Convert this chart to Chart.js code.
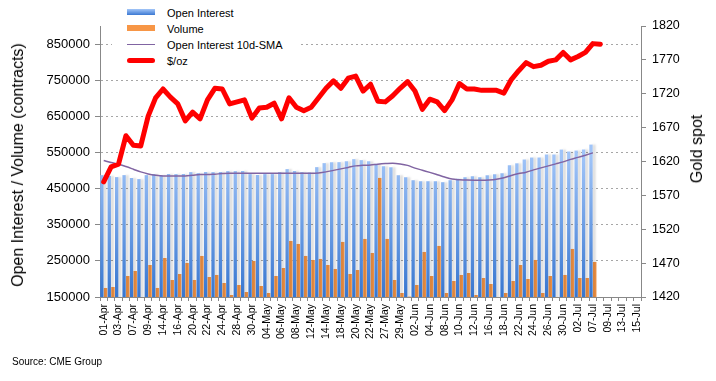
<!DOCTYPE html>
<html>
<head>
<meta charset="utf-8">
<script src="https://cdn.jsdelivr.net/npm/chart.js@4/dist/chart.umd.min.js"></script>
<style>
  body { margin: 0; background: #fff; font-family: "Liberation Sans", Arial, sans-serif; }
  #wrap { position: relative; width: 716px; height: 381px; }
  #chart { position: absolute; left: 0; top: 0; }
  .legend { position: absolute; left: 112px; top: 1px; width: 186px; height: 69px; background: #fff; z-index: 2; }
  .legend .row { position: absolute; left: 0; height: 14px; width: 186px; }
  .legend .sw { position: absolute; left: 15px; width: 28px; }
  .legend .txt { position: absolute; left: 55px; top: 0; font-size: 11px; line-height: 14px; color: #000; white-space: nowrap; }
  .axis-title { position: absolute; font-size: 16px; color: #000; white-space: nowrap; transform: translate(-50%, -50%) rotate(-90deg); z-index: 2; }
  .source { position: absolute; left: 12px; top: 356px; font-size: 10px; color: #000; }
</style>
</head>
<body>
<div id="wrap">
  <canvas id="chart" width="716" height="381"></canvas>
  <div class="legend">
    <div class="row" style="top:5px"><div class="sw" style="top:3px;height:6px;background:linear-gradient(#a3c6f8,#3b78d2)"></div><div class="txt">Open Interest</div></div>
    <div class="row" style="top:21px"><div class="sw" style="top:3px;height:6px;background:#f79646"></div><div class="txt">Volume</div></div>
    <div class="row" style="top:37px"><div class="sw" style="top:6px;height:1px;background:#8064a2"></div><div class="txt">Open Interest 10d-SMA</div></div>
    <div class="row" style="top:53px"><div class="sw" style="top:4px;height:5px;border-radius:3px;background:#ff0000"></div><div class="txt">$/oz</div></div>
  </div>
  <div class="axis-title" style="left:18px;top:165px">Open Interest / Volume (contracts)</div>
  <div class="axis-title" style="left:697px;top:149px">Gold spot</div>
  <div class="source">Source: CME Group</div>
</div>
<script>
// trading days shown on the category axis
const dates = [
  '01-Apr','02-Apr','03-Apr','06-Apr','07-Apr','08-Apr','09-Apr','13-Apr','14-Apr','15-Apr','16-Apr','17-Apr',
  '20-Apr','21-Apr','22-Apr','23-Apr','24-Apr','27-Apr','28-Apr','29-Apr','30-Apr',
  '01-May','04-May','05-May','06-May','07-May','08-May','11-May','12-May','13-May','14-May','15-May',
  '18-May','19-May','20-May','21-May','22-May','26-May','27-May','28-May','29-May',
  '01-Jun','02-Jun','03-Jun','04-Jun','05-Jun','08-Jun','09-Jun','10-Jun','11-Jun','12-Jun',
  '15-Jun','16-Jun','17-Jun','18-Jun','19-Jun','22-Jun','23-Jun','24-Jun','25-Jun','26-Jun','29-Jun','30-Jun',
  '01-Jul','02-Jul','06-Jul','07-Jul','08-Jul','09-Jul','10-Jul','13-Jul','14-Jul','15-Jul'
];

const openInterest = [
  487300, 485000, 481800, 487300, 479000, 476300, 487300, 490100, 487300, 490100, 490100, 490100,
  495600, 492800, 495600, 495600, 495600, 498400, 498400, 498400, 490100,
  487300, 490100, 490100, 495600, 503900, 498400, 495600, 494700, 509400, 520500, 523200,
  523200, 526000, 531500, 528800, 525500, 518600, 511800, 509000, 487000,
  481400, 473200, 470400, 470400, 470400, 467700, 473200, 477300, 481400, 484200,
  481400, 486900, 489700, 492500, 514500, 520000, 530500, 536000, 536000, 544300, 544300, 558000,
  552600, 555300, 558000, 571800
];

const volume = [
  175000, 177700, 140000, 208200, 222000, 140000, 238600, 175000, 258000, 197100, 213700, 244200,
  197100, 263600, 205400, 211000, 188800, 155500, 183200, 163900, 249700,
  180500, 161100, 208200, 230300, 305100, 296800, 263600, 252500, 255300, 238600, 227600,
  302400, 213700, 224800, 310700, 271900, 479600, 310700, 197100, 161100,
  151000, 183200, 274700, 208200, 291300, 161100, 194300, 211000, 216500, 155500,
  202600, 186000, 140000, 161100, 194300, 238600, 199900, 252500, 161100, 208200, 140000, 211000,
  283000, 202600, 202600, 246900
];

const oiSma = [
  527600, 522000, 517500, 511000, 503700, 496200, 490700, 487100, 485200, 485200, 485200, 485200,
  487000, 488800, 488800, 490000, 491600, 492600, 492600, 492600, 492600,
  492600, 492600, 492600, 492600, 492600, 492600, 492600, 492600, 493500, 496300, 500400,
  504600, 508700, 512900, 514300, 515600, 517600, 519200, 520400, 518400,
  514300, 506600, 501000, 494900, 488500, 482000, 476500, 474500, 473500, 473300,
  473300, 474000, 476000, 480000, 486500, 491500, 495500, 501800, 507300, 512900, 518400, 524000,
  530900, 536400, 542500, 548900
];

const goldSpot = [
  1590, 1612, 1616, 1658, 1644, 1643, 1687, 1714, 1727, 1715, 1705, 1680,
  1693, 1683, 1711, 1728, 1727, 1705, 1708, 1711, 1684,
  1699, 1700, 1706, 1683, 1714, 1700, 1695, 1700, 1714, 1728, 1739,
  1728, 1743, 1746, 1724, 1734, 1709, 1708, 1717, 1728,
  1738, 1724, 1697, 1712, 1708, 1695, 1711, 1735, 1727, 1727,
  1725, 1725, 1725, 1721, 1741, 1754, 1766, 1760, 1762, 1768, 1770, 1781,
  1770, 1775, 1781, 1794, 1793
];

const leftTicks = [150000, 250000, 350000, 450000, 550000, 650000, 750000, 850000];

const FONT = '"Liberation Sans", Arial, sans-serif';
Chart.defaults.font.family = FONT;
Chart.defaults.color = '#000';

let blueGrad = null;
const blueFill = (c) => {
  const { ctx, chartArea } = c.chart;
  if (!chartArea) return '#6a9fe6';
  if (!blueGrad) {
    blueGrad = ctx.createLinearGradient(0, chartArea.top + 130, 0, chartArea.bottom);
    blueGrad.addColorStop(0, '#a0c4f8');
    blueGrad.addColorStop(1, '#3776d0');
  }
  return blueGrad;
};

// soft shadow to the right of the open interest bars
const barShadow = {
  id: 'barShadow',
  beforeDatasetDraw(chart, args) {
    if (chart.data.datasets[args.index].label !== 'Open Interest') return;
    const c = chart.ctx;
    c.save();
    c.shadowColor = 'rgba(0,0,0,0.13)';
    c.shadowOffsetX = 3;
    c.shadowOffsetY = 0;
    c.shadowBlur = 2;
  },
  afterDatasetDraw(chart, args) {
    if (chart.data.datasets[args.index].label !== 'Open Interest') return;
    chart.ctx.restore();
  }
};

new Chart(document.getElementById('chart').getContext('2d'), {
  type: 'bar',
  data: {
    labels: dates,
    datasets: [
      {
        type: 'line', label: '$/oz', data: goldSpot, yAxisID: 'y1',
        borderColor: '#ff0000', borderWidth: 5, pointRadius: 0,
        borderJoinStyle: 'round', borderCapStyle: 'round', order: 0
      },
      {
        type: 'line', label: 'Open Interest 10d-SMA', data: oiSma, yAxisID: 'y',
        borderColor: '#8064a2', borderWidth: 1.5, pointRadius: 0,
        cubicInterpolationMode: 'monotone', order: 1
      },
      {
        label: 'Open Interest', data: openInterest, yAxisID: 'y',
        backgroundColor: blueFill, categoryPercentage: 1.0, barPercentage: 0.9, order: 2
      },
      {
        label: 'Volume', data: volume, yAxisID: 'y',
        backgroundColor: '#f79646', categoryPercentage: 1.0, barPercentage: 0.95, order: 3
      }
    ]
  },
  options: {
    responsive: false,
    animation: false,
    layout: { padding: { top: 26, left: 0, right: 0, bottom: 0 } },
    plugins: { legend: { display: false }, tooltip: { enabled: false } },
    scales: {
      x: {
        offset: true,
        grid: { drawOnChartArea: false, offset: true, color: '#888', tickLength: 4 },
        border: { color: '#888' },
        ticks: {
          autoSkip: false, minRotation: 90, maxRotation: 90, padding: 3,
          font: { size: 10.5 },
          callback: (v, i) => (i % 2 === 0 ? dates[i] : '')
        },
        afterFit: (s) => { s.height = 84; }
      },
      y: {
        position: 'left', min: 150000, max: 900000,
        afterBuildTicks: (s) => { s.ticks = leftTicks.map(v => ({ value: v })); },
        afterFit: (s) => { s.width = 100; },
        grid: { color: '#a6a6a6', tickColor: '#888', tickLength: 5, tickBorderDash: [1, 0] },
        border: { color: '#888', dash: [2, 3] },
        ticks: { font: { size: 13 }, padding: 5, callback: (v) => String(v) }
      },
      y1: {
        position: 'right', min: 1420, max: 1820,
        afterFit: (s) => { s.width = 75; },
        grid: { drawOnChartArea: false, color: '#888', tickLength: 5 },
        border: { color: '#888' },
        ticks: { stepSize: 50, font: { size: 12.5 }, padding: 6, callback: (v) => String(v) }
      }
    }
  },
  plugins: [barShadow]
});
</script>
</body>
</html>
